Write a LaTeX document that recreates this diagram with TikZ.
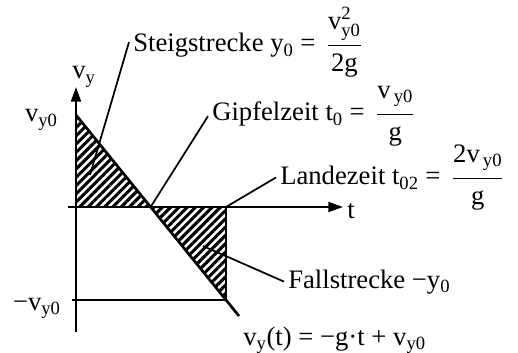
\documentclass[tikz,border=0pt]{standalone}
\usepackage{amsmath}
\usepackage{fontspec}
\setmainfont{Liberation Serif}
\usetikzlibrary{arrows.meta,patterns.meta}
\newcommand{\numstrut}{\rule[-9pt]{0pt}{9pt}}
\newcommand{\denstrut}{\rule{0pt}{17pt}}

\begin{document}
\begin{tikzpicture}[x=0.75pt,y=-0.75pt,
  lbl/.style={inner xsep=3pt,inner ysep=0pt,font=\fontsize{20}{24}\selectfont},
  lead/.style={line width=1.3pt},
  ax/.style={line width=1.4pt},
  hatch/.style={pattern={Lines[angle=45,distance=4.4pt,line width=2.3pt]}}]
  \useasboundingbox (0,0) rectangle (518,353);
  \coordinate (top) at (76,115);
  \coordinate (orig) at (76,207);
  \coordinate (cross) at (150.6,207);
  \coordinate (land) at (226,207);
  \coordinate (low) at (226,300);
  \coordinate (end) at (239,316);
  \fill[hatch] (top) -- (orig) -- (cross) -- cycle;
  \fill[hatch] (cross) -- (land) -- (low) -- cycle;
  \draw[ax,-{Triangle[length=11pt,width=7.5pt]}] (76,332) -- (76,87);
  \draw[ax,-{Triangle[length=11pt,width=7.5pt]}] (68,207) -- (343,207);
  \draw[ax] (72,300) -- (low) -- (land);
  \draw[line width=2pt] (top) -- (end);
  \node[lbl,anchor=base east] (vmax) at (62,122) {v\textsubscript{y0}};
  \node[lbl,anchor=base east] (vmin) at (65,310) {−v\textsubscript{y0}};
  \node[lbl,anchor=base west] (vy) at (68,79) {v\textsubscript{y}};
  \node[lbl,anchor=base west] (tlbl) at (343,218) {t};
  \node[lbl,anchor=base west] (steig) at (129,52)
    {Steigstrecke y\textsubscript{0} =\, $\dfrac{\text{v}^{\text{2}}_{\text{y0}}\numstrut}{\denstrut\text{2g}}$};
  \node[lbl,anchor=base west] (gipfel) at (208,121)
    {Gipfelzeit t\textsubscript{0} =\, $\dfrac{\text{v}_{\text{\,y0}}\numstrut}{\denstrut\text{g}}$};
  \node[lbl,anchor=base west] (lande) at (276,185)
    {Landezeit t\textsubscript{02} =\, $\dfrac{\text{2v}_{\text{\,y0}}\numstrut}{\denstrut\text{g}}$};
  \node[lbl,anchor=base west] (fall) at (284,288) {Fallstrecke −y\textsubscript{0}};
  \node[lbl,anchor=base west] (vt) at (239,345) {v\textsubscript{y}(t) = −g·t + v\textsubscript{y0}};
  \coordinate (steigpt) at (90,175);
  \coordinate (fallpt) at (203,246);
  \draw[lead] (steigpt) -- (steig.west);
  \draw[lead] (cross) -- (gipfel.west);
  \draw[lead] (land) -- (lande.west);
  \draw[lead] (fallpt) -- (fall.west);
\end{tikzpicture}
\end{document}
